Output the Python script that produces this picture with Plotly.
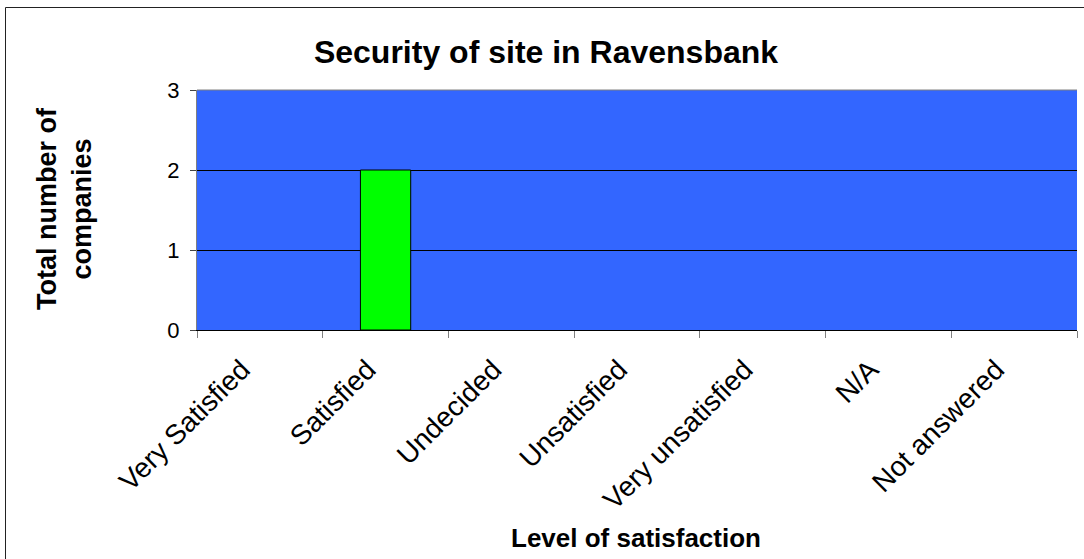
import plotly.graph_objects as go

categories = ["Very Satisfied", "Satisfied", "Undecided", "Unsatisfied",
              "Very unsatisfied", "N/A", "Not answered"]
values = [0, 2, 0, 0, 0, 0, 0]
y_ticks = [0, 1, 2, 3]

W, H = 1084, 559
L, R, T, B = 197, 7, 90, 229
pw, ph = W - L - R, H - T - B

font = "Arial, 'Liberation Sans', sans-serif"

fig = go.Figure()
fig.add_trace(go.Bar(
    x=categories, y=values,
    marker=dict(color="#00FF00",
                line=dict(color="black", width=[1 if v else 0 for v in values])),
    width=0.4,
))

fig.update_layout(
    width=W, height=H,
    margin=dict(l=L, r=R, t=T, b=B),
    paper_bgcolor="white",
    plot_bgcolor="#3366FF",
    showlegend=False,
    font=dict(family=font, color="black", size=18),
    title=dict(text="<b>Security of site in Ravensbank</b>", x=546 / W, xanchor="center",
               y=1 - 52 / H, yanchor="middle", font=dict(size=32)),
)
fig.update_xaxes(
    tickangle=-45, ticks="outside", ticklen=7, tickcolor="gray",
    tickson="boundaries", showline=True, linecolor="black", linewidth=1,
    showgrid=False, tickfont=dict(size=28),
    ticklabelstandoff=11, ticklabelshift=-18,
    range=[-0.5, 6.5],
)
fig.update_yaxes(
    range=[0, 3], tickvals=y_ticks, ticks="outside", ticklen=6, tickcolor="#444444",
    showline=True, linecolor="gray", linewidth=1,
    showgrid=True, gridcolor="black", gridwidth=1, zeroline=False,
    tickfont=dict(size=22), ticklabelstandoff=6,
)
# axis titles
fig.add_annotation(text="<b>Level of satisfaction</b>", xref="paper", yref="paper",
                   x=(636 - L) / pw, y=-(538 - (T + ph)) / ph, xanchor="center",
                   yanchor="middle", showarrow=False, font=dict(size=26))
fig.add_annotation(text="<b>Total number of<br>companies</b>", xref="paper", yref="paper",
                   x=(64 - L) / pw, y=1 - (209 - T) / ph, xanchor="center",
                   yanchor="middle", showarrow=False, textangle=-90,
                   font=dict(size=27))
# top border of plot area (gray)
fig.add_shape(type="line", xref="paper", yref="paper", x0=0, x1=1, y0=1, y1=1,
              line=dict(color="gray", width=1))
# outer chart border
fig.add_shape(type="rect", xref="paper", yref="paper",
              x0=(5.5 - L) / pw, x1=(W + 5 - L) / pw,
              y0=-(H + 5 - T - ph) / ph, y1=1 + (T - 7.5) / ph,
              line=dict(color="#222222", width=1), layer="below")
fig.write_html("out.html", config={"displayModeBar": False},
               post_script="document.body.style.margin='0';")
